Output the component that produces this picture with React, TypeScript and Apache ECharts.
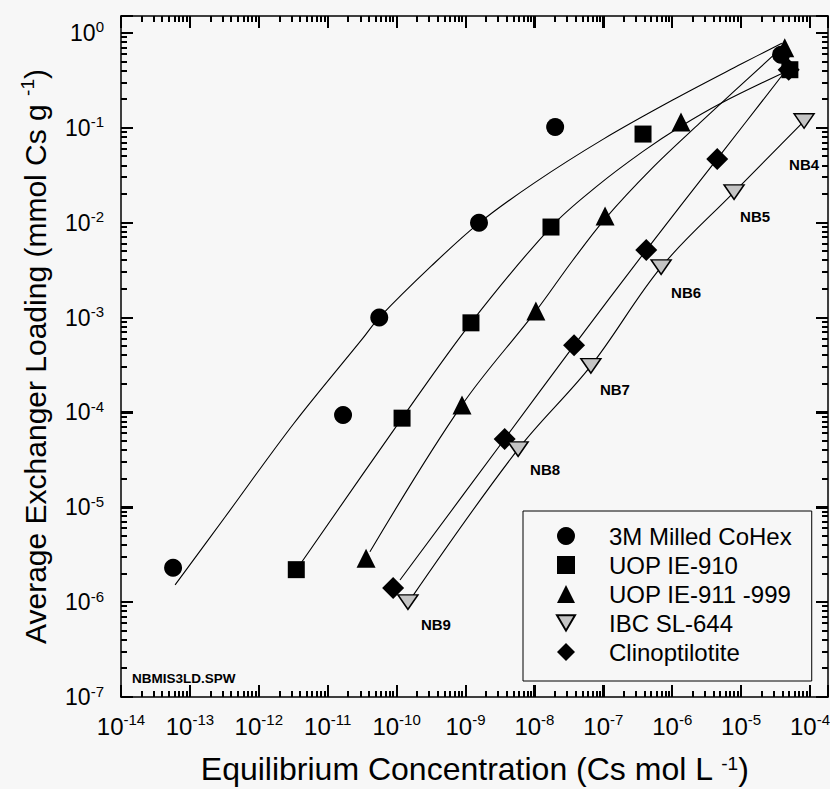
import React, { useEffect, useRef } from "react";
import * as echarts from "echarts";

// ---- data ----
const xTickExponents = [-14, -13, -12, -11, -10, -9, -8, -7, -6, -5, -4];
const yTickExponents = [-7, -6, -5, -4, -3, -2, -1, 0];

const seriesNames = ["3M Milled CoHex", "UOP IE-910", "UOP IE-911 -999", "IBC SL-644", "Clinoptilotite"];

// measured points: [equilibrium concentration (mol/L), loading (mmol/g)]
const cohexPoints = [[5.7e-14, 2.3e-6], [1.67e-11, 9.4e-5], [5.6e-11, 1.0e-3], [1.57e-9, 1.0e-2], [2.0e-8, 0.102], [3.8e-5, 0.59]];
const ie910Points = [[3.5e-12, 2.2e-6], [1.2e-10, 8.7e-5], [1.2e-9, 8.8e-4], [1.74e-8, 9.0e-3], [3.77e-7, 0.086], [5.1e-5, 0.41]];
const ie911Points = [[3.6e-11, 2.9e-6], [8.9e-10, 1.2e-4], [1.05e-8, 1.17e-3], [1.06e-7, 0.0118], [1.34e-6, 0.115], [4.3e-5, 0.7]];
const sl644Points = [[1.46e-10, 1.0e-6], [5.8e-9, 4.1e-5], [6.6e-8, 3.1e-4], [6.9e-7, 3.4e-3], [7.9e-6, 0.021], [8.2e-5, 0.118]];
const clinoPoints = [[8.9e-11, 1.41e-6], [3.7e-9, 5.25e-5], [3.76e-8, 5.1e-4], [4.2e-7, 5.15e-3], [4.5e-6, 0.047], [4.9e-5, 0.41]];

// fitted isotherm curves
const cohexFit = [[6.1e-14, 1.52e-6], [3.2e-13, 7.8e-6], [3.2e-12, 7.6e-5], [3.2e-11, 6.0e-4], [5.6e-11, 1.0e-3], [3.2e-10, 3.5e-3], [1.57e-9, 9.9e-3], [1.0e-8, 0.0263], [1.0e-7, 0.076], [1.0e-6, 0.195], [1.0e-5, 0.47], [3.9e-5, 0.78]];
const ie910Fit = [[4.2e-12, 2.65e-6], [1.2e-10, 8.7e-5], [1.2e-9, 8.8e-4], [1.74e-8, 9.0e-3], [8.1e-8, 0.0243], [3.77e-7, 0.0565], [1.34e-6, 0.104], [5.1e-6, 0.182], [5.1e-5, 0.41]];
const ie911Fit = [[4.1e-11, 3.4e-6], [8.9e-10, 1.2e-4], [1.05e-8, 1.17e-3], [3.5e-8, 3.9e-3], [1.06e-7, 0.011], [5.0e-7, 0.037], [2.5e-6, 0.112], [4.3e-5, 0.75]];
const clinoFit = [[1.12e-10, 1.71e-6], [3.7e-9, 5.25e-5], [3.76e-8, 5.1e-4], [4.2e-7, 5.15e-3], [4.5e-6, 0.047], [4.8e-5, 0.43]];
const sl644Fit = [[1.67e-10, 1.13e-6], [5.8e-9, 4.1e-5], [6.6e-8, 3.1e-4], [6.9e-7, 3.4e-3], [7.9e-6, 0.021], [8.2e-5, 0.118]];

const sampleLabels = ["NB9", "NB8", "NB7", "NB6", "NB5", "NB4"];

// ---- styling / layout ----
const FONT = "'Liberation Sans', Arial, Helvetica, sans-serif";
const X_MIN = -14;
const X_MAX = -3.739;
const Y_MIN = -7;
const Y_MAX = 0.179;
const GRID = { left: 121, top: 16, right: 2, bottom: 92 };
const MAJOR_LEN = 12;
const MINOR_LEN = 6;
const TICK_W = 2;
const sampleLabelOffsets = [[28, 22], [27, 20], [24, 24], [25, 25], [21, 24], [0, 43]];

const toLog = (pts: number[][]) => pts.map(([x, y]) => [Math.log10(x), Math.log10(y)]);

const minorLogs = (lo: number, hi: number) => {
  const out: number[] = [];
  for (let n = Math.floor(lo); n < Math.ceil(hi); n++) {
    for (let k = 2; k <= 9; k++) {
      const v = n + Math.log10(k);
      if (v > lo && v < hi) out.push(v);
    }
  }
  return out;
};

const tickRich = (base: number, sup: number) => ({
  b: { fontSize: base, lineHeight: base + 4, fontFamily: FONT, color: "#000" },
  s: { fontSize: sup, lineHeight: sup, verticalAlign: "top", fontFamily: FONT, color: "#000" },
});

const frameAxis = (position: string, min: number, max: number, extra: any = {}) => ({
  type: "value",
  position,
  min,
  max,
  interval: 1,
  axisLine: { show: true, onZero: false, lineStyle: { color: "#000", width: 1.5 } },
  axisTick: { show: true, inside: true, length: MAJOR_LEN, lineStyle: { color: "#000", width: TICK_W } },
  axisLabel: { show: false },
  splitLine: { show: false },
  ...extra,
});

const noteText = {
  type: "text",
  left: 132,
  top: 671,
  z: 10,
  style: { text: "NBMIS3LD.SPW", fontSize: 13.5, fontWeight: "bold", fontFamily: FONT, fill: "#000" },
};

export default function App() {
  const ref = useRef<HTMLDivElement>(null);

  useEffect(() => {
    if (!ref.current) return;
    const chart = echarts.init(ref.current, undefined, { renderer: "svg" });

    const fits = [cohexFit, ie910Fit, ie911Fit, sl644Fit, clinoFit];
    const lineSeries = fits.map((f, i) => ({
      name: "fit " + seriesNames[i],
      type: "line",
      data: toLog(f),
      showSymbol: false,
      symbol: "none",
      smooth: 0.35,
      silent: true,
      z: 2,
      lineStyle: { color: "#000", width: 1.1 },
    }));

    const scatterBase = {
      type: "scatter",
      z: 3,
      symbolKeepAspect: true,
      itemStyle: { color: "#000", opacity: 1 },
    };

    const sl644Data = toLog(sl644Points).map((v, i) => ({
      value: v,
      label: {
        show: true,
        position: "inside",
        formatter: sampleLabels[i],
        offset: sampleLabelOffsets[i],
        fontSize: 15,
        fontWeight: "bold",
        fontFamily: FONT,
        color: "#000",
      },
    }));

    const option: any = {
      animation: false,
      backgroundColor: "#f7f7f7",
      grid: { ...GRID, containLabel: false, outerBoundsMode: "none" },
      xAxis: [
        frameAxis("bottom", X_MIN, X_MAX, {
          axisLabel: {
            show: true,
            customValues: xTickExponents,
            margin: 15,
            formatter: (v: number) => `{b|10}{s|${Math.round(v)}}`,
            rich: tickRich(24, 15),
          },
          name: "{t|Equilibrium Concentration (Cs mol L }{s|-1}{t|)}",
          nameLocation: "middle",
          nameGap: 57,
          nameTextStyle: {
            rich: {
              t: { fontSize: 32, lineHeight: 30, fontFamily: FONT, color: "#000" },
              s: { fontSize: 19, lineHeight: 14, verticalAlign: "top", fontFamily: FONT, color: "#000" },
            },
          },
        }),
        frameAxis("top", X_MIN, X_MAX),
      ],
      yAxis: [
        frameAxis("left", Y_MIN, Y_MAX, {
          axisLabel: {
            show: true,
            customValues: yTickExponents,
            margin: 17,
            formatter: (v: number) => `{b|10}{s|${Math.round(v)}}`,
            rich: tickRich(23, 15),
          },
          name: "{t|Average Exchanger Loading (mmol Cs g }{s|-1}{t|)}",
          nameLocation: "middle",
          nameGap: 69,
          nameTextStyle: {
            rich: {
              t: { fontSize: 30, lineHeight: 34, fontFamily: FONT, color: "#000" },
              s: { fontSize: 19, lineHeight: 19, verticalAlign: "top", fontFamily: FONT, color: "#000" },
            },
          },
        }),
        frameAxis("right", Y_MIN, Y_MAX),
      ],
      legend: {
        data: seriesNames,
        orient: "vertical",
        left: 523,
        top: 511,
        padding: [13, 20, 17, 33],
        itemWidth: 18,
        itemHeight: 18,
        itemGap: 5,
        borderColor: "#000",
        borderWidth: 1,
        borderRadius: 0,
        backgroundColor: "#f7f7f7",
        selectedMode: false,
        textStyle: { fontSize: 24, fontFamily: FONT, color: "#000", padding: [0, 0, 0, 29] },
      },
      graphic: [noteText],
      series: [
        ...lineSeries,
        { ...scatterBase, name: seriesNames[0], symbol: "circle", symbolSize: 18, data: toLog(cohexPoints) },
        { ...scatterBase, name: seriesNames[1], symbol: "rect", symbolSize: 17, data: toLog(ie910Points) },
        { ...scatterBase, name: seriesNames[2], symbol: "triangle", symbolSize: 19, data: toLog(ie911Points) },
        {
          ...scatterBase,
          name: seriesNames[3],
          symbol: "path://M0,0L20,0L10,17Z",
          symbolSize: [20, 17],
          itemStyle: { color: "#c4c4c4", borderColor: "#000", borderWidth: 1.5, opacity: 1 },
          data: sl644Data,
        },
        { ...scatterBase, name: seriesNames[4], symbol: "diamond", symbolSize: 22, z: 2.5, data: toLog(clinoPoints) },
      ],
    };

    chart.setOption(option);

    // tick marks on all four sides (major + log minor), placed through the chart's own scales,
    // drawn as thin filled rectangles
    const xMinor = minorLogs(X_MIN, X_MAX);
    const yMinor = minorLogs(Y_MIN, Y_MAX);
    const px = (v: number[]): number[] | null => {
      let p: any = null;
      try {
        p = chart.convertToPixel({ seriesIndex: 5 }, v);
      } catch (e) {
        p = null;
      }
      if (!p || !isFinite(p[0]) || !isFinite(p[1])) {
        try {
          p = chart.convertToPixel({ gridIndex: 0 }, v);
        } catch (e) {
          p = null;
        }
      }
      return p && isFinite(p[0]) && isFinite(p[1]) ? p : null;
    };
    const tickEls: any[] = [];
    const addRect = (x: number, y: number, width: number, height: number) =>
      tickEls.push({
        type: "rect",
        silent: true,
        z: 100,
        shape: { x, y, width, height },
        style: { fill: "#000" },
      });
    const xTicks = [...xTickExponents.map((v) => [v, MAJOR_LEN]), ...xMinor.map((v) => [v, MINOR_LEN])];
    const yTicks = [...yTickExponents.map((v) => [v, MAJOR_LEN]), ...yMinor.map((v) => [v, MINOR_LEN])];
    xTicks.forEach(([v, len]) => {
      const b = px([v, Y_MIN]);
      const t = px([v, Y_MAX]);
      if (!b || !t) return;
      const x = Math.round(b[0]) - 1;
      addRect(x, b[1] - len, TICK_W, len);
      addRect(x, t[1], TICK_W, len);
    });
    yTicks.forEach(([v, len]) => {
      const l = px([X_MIN, v]);
      const r = px([X_MAX, v]);
      if (!l || !r) return;
      const y = Math.round(l[1]) - 1;
      addRect(l[0], y, len, TICK_W);
      addRect(r[0] - len, y, len, TICK_W);
    });
    chart.setOption({ graphic: [noteText, ...tickEls] });

    return () => chart.dispose();
  }, []);

  return <div ref={ref} style={{ position: "fixed", left: 0, top: 0, width: 830, height: 789 }} />;
}
